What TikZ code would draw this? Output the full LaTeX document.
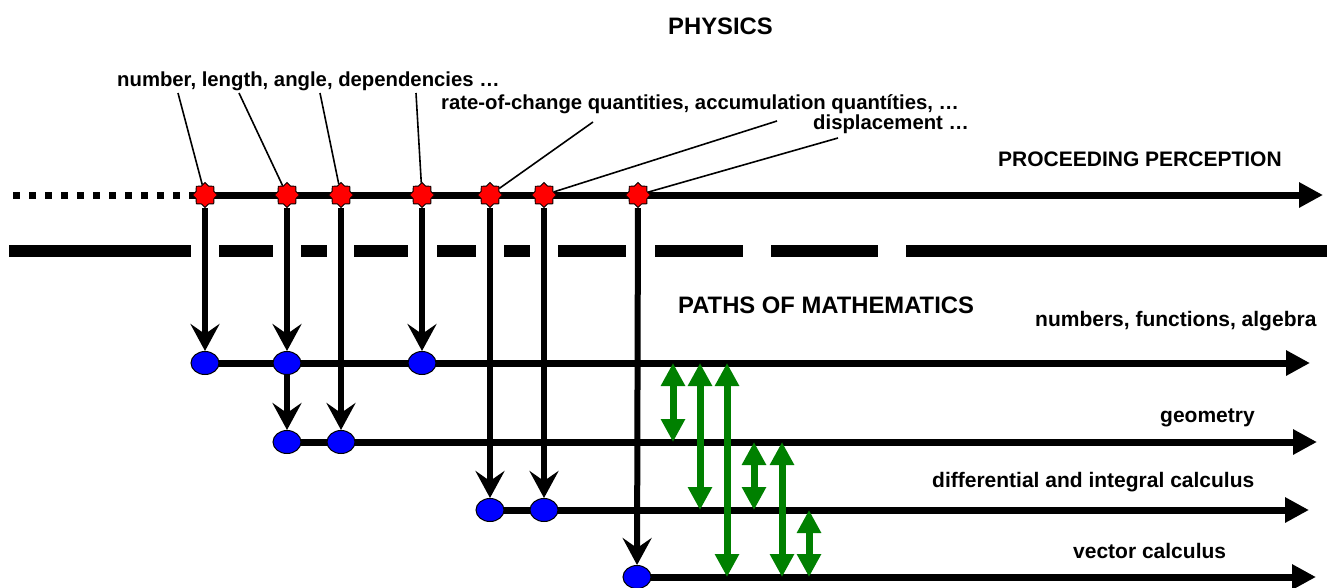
\documentclass[tikz,border=0pt]{standalone}
\usepackage{fontspec}
\setmainfont{Liberation Sans}
\usetikzlibrary{arrows.meta,shapes.geometric}
\pgfdeclarelayer{bg}
\pgfsetlayers{bg,main}
\definecolor{dkgreen}{RGB}{0,128,0}
\begin{document}
\begin{tikzpicture}[x=1pt,y=-1pt,
  lbl/.style={anchor=base west,inner sep=0pt,font=\bfseries\fontsize{20.3}{24}\selectfont},
  mlbl/.style={anchor=base west,inner sep=0pt,font=\bfseries\fontsize{21}{25}\selectfont},
  ttl/.style={anchor=base west,inner sep=0pt,font=\bfseries\fontsize{23.8}{28}\selectfont},
  evt/.style={star,star points=8,star point ratio=1.3,minimum size=25pt,inner sep=0pt,fill=red,draw=black,line width=0.8pt},
  pt/.style={ellipse,minimum width=28pt,minimum height=23pt,inner sep=0pt,fill=blue,draw=black,line width=1pt},
  pointer/.style={line width=1.6pt},
  varrow/.style={line width=6pt,-{Stealth[length=27pt,width=29pt,inset=10pt]}},
  harrow/.style={line width=7pt,-{Triangle[length=24pt,width=24pt]}},
  garrow/.style={draw=dkgreen,line width=7pt,{Triangle[length=23pt,width=23pt]}-{Triangle[length=23pt,width=23pt]}},
]
\useasboundingbox (0,0) rectangle (1329,587);
\begin{pgfonlayer}{bg}
\fill[white] (0,0) rectangle (1329,587);
\end{pgfonlayer}

% titles and labels
\node[ttl] (physics) at (668,34) {PHYSICS};
\node[ttl] (paths) at (678,313) {PATHS OF MATHEMATICS};
\node[mlbl] (proc) at (998,166) {PROCEEDING PERCEPTION};
\node[lbl] (lab1) at (117,86) {number, length, angle, dependencies …};
\node[lbl] (lab2) at (441,109) {rate-of-change quantities, accumulation quantíties, …};
\node[lbl] (lab3) at (813,129) {displacement …};
\node[mlbl] (lnum) at (1035,326) {numbers, functions, algebra};
\node[mlbl] (lgeo) at (1160,422) {geometry};
\node[mlbl] (ldiff) at (932,487) {differential and integral calculus};
\node[mlbl] (lvec) at (1073,558) {vector calculus};

% stars on the physics line
\node[evt] (s1) at (205,195) {};
\node[evt] (s2) at (287,195) {};
\node[evt] (s3) at (341,195) {};
\node[evt] (s4) at (422,195) {};
\node[evt] (s5) at (490,195) {};
\node[evt] (s6) at (544,195) {};
\node[evt] (s7) at (638,195) {};

% ellipses on the mathematics lines
\node[pt] (e1) at (205,363) {};
\node[pt] (e2) at (287,363) {};
\node[pt] (e3) at (422,363) {};
\node[pt] (e4) at (287,442) {};
\node[pt] (e5) at (341,442) {};
\node[pt] (e6) at (490,510) {};
\node[pt] (e7) at (544,510) {};
\node[pt] (e8) at (637,577) {};

% free ends
\coordinate (c1) at (178,93);
\coordinate (c2) at (239,93);
\coordinate (c3) at (320,93);
\coordinate (c4) at (416,93);
\coordinate (c5) at (593,122);
\coordinate (c6) at (777,121);
\coordinate (c7) at (838,138);
\coordinate (pdot) at (13,195);
\coordinate (pend) at (1323,195);
\coordinate (sepa) at (9,251);
\coordinate (sepb) at (1327,251);
\coordinate (ne) at (1310,363);
\coordinate (ge) at (1317,442);
\coordinate (de) at (1309,510);
\coordinate (ve) at (1316,577);

\begin{pgfonlayer}{bg}
% physics line
\draw[line width=7pt,dash pattern=on 7pt off 9pt] (pdot) -- (s1.center);
\draw[harrow] (s1.center) -- (pend);
% separator
\draw[line width=12pt,dash pattern=on 182pt off 28pt on 54pt off 28pt on 26pt off 27pt on 54pt off 29pt on 39pt off 28pt on 26pt off 28pt on 68pt off 29pt on 88pt off 28pt on 107pt off 28pt on 421pt] (sepa) -- (sepb);
% mathematics lines
\draw[harrow] (e1.center) -- (ne);
\draw[harrow] (e4.center) -- (ge);
\draw[harrow] (e6.center) -- (de);
\draw[harrow] (e8.center) -- (ve);
% vertical arrows
\draw[varrow] (s1) -- (e1);
\draw[varrow] (s2) -- (e2);
\draw[varrow] (e2) -- (e4);
\draw[varrow] (s3) -- (e5);
\draw[varrow] (s4) -- (e3);
\draw[varrow] (s5) -- (e6);
\draw[varrow] (s6) -- (e7);
\draw[varrow] (s7) -- (e8);
% pointers
\draw[pointer] (c1) -- (s1);
\draw[pointer] (c2) -- (s2);
\draw[pointer] (c3) -- (s3);
\draw[pointer] (c4) -- (s4);
\draw[pointer] (c5) -- (s5);
\draw[pointer] (c6) -- (s6);
\draw[pointer] (c7) -- (s7);
\end{pgfonlayer}

% green connections
\coordinate (g1a) at (673,363); \coordinate (g1b) at (673,442);
\coordinate (g2a) at (700,363); \coordinate (g2b) at (700,510);
\coordinate (g3a) at (727,363); \coordinate (g3b) at (727,577);
\coordinate (g4a) at (754,442); \coordinate (g4b) at (754,510);
\coordinate (g5a) at (782,442); \coordinate (g5b) at (782,577);
\coordinate (g6a) at (809,510); \coordinate (g6b) at (809,577);
\draw[garrow] (g1a) -- (g1b);
\draw[garrow] (g2a) -- (g2b);
\draw[garrow] (g3a) -- (g3b);
\draw[garrow] (g4a) -- (g4b);
\draw[garrow] (g5a) -- (g5b);
\draw[garrow] (g6a) -- (g6b);
\end{tikzpicture}
\end{document}
